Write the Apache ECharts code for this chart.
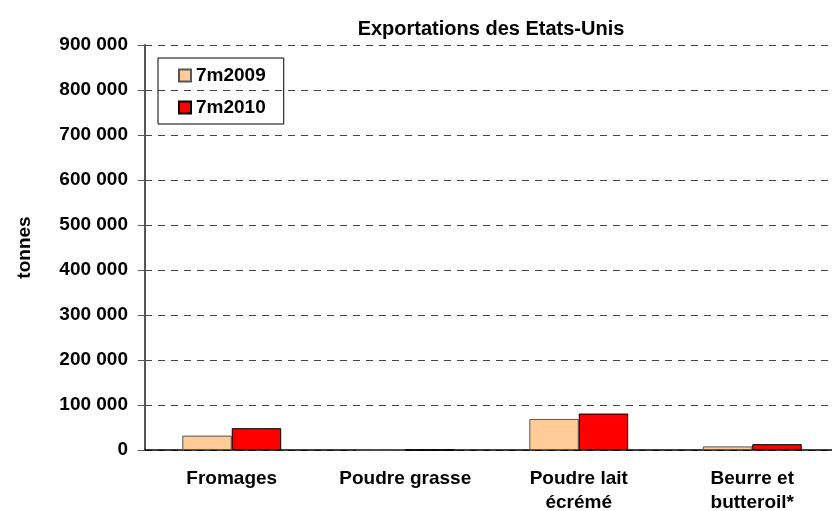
<!DOCTYPE html>
<html lang="fr">

<head>
  <meta charset="UTF-8">
  <title>Exportations des Etats-Unis</title>
  <script src="https://cdn.jsdelivr.net/npm/echarts@6/dist/echarts.min.js"></script>
</head>

<body style="margin:0;background:#fff;">
  <div id="main" style="width: 832px;height:511px;"></div>
  <script>
    let categories = ['Fromages', 'Poudre grasse', 'Poudre lait\nécrémé', 'Beurre et\nbutteroil*'];
    let seriesNames = ['7m2009', '7m2010'];
    let values2009 = [32000, 0, 69000, 8000];
    let values2010 = [48500, 0, 81000, 13000];
    let yTicks = { min: 0, max: 900000, interval: 100000 };

    let font = '"Liberation Sans", Arial, sans-serif';

    let chart = echarts.init(document.getElementById('main'));
    let option = {
      animation: false,
      backgroundColor: '#fff',
      title: {
        text: 'Exportations des Etats-Unis',
        left: 486,
        top: 14,
        textAlign: 'center',
        textStyle: {
          fontFamily: font,
          fontSize: 20,
          fontWeight: 'bold',
          color: '#000'
        }
      },
      legend: {
        orient: 'vertical',
        left: 158,
        top: 58,
        padding: [8, 18, 7, 20],
        itemGap: 13,
        itemWidth: 12,
        itemHeight: 12,
        borderColor: '#000',
        borderWidth: 1,
        borderRadius: 0,
        icon: 'rect',
        data: seriesNames,
        textStyle: {
          fontFamily: font,
          fontSize: 19,
          fontWeight: 'bold',
          color: '#000'
        }
      },
      // the plot area runs a little past the right edge of the picture
      grid: {
        left: 145,
        top: 45,
        width: 694,
        bottom: 61,
        containLabel: false,
        outerBoundsMode: 'none'
      },
      xAxis: {
        type: 'category',
        data: categories,
        axisLine: { lineStyle: { color: '#000', width: 1.5 } },
        axisTick: {
          length: 6,
          lineStyle: { color: '#666', width: 1.5 }
        },
        axisLabel: {
          margin: 17,
          interval: 0,
          lineHeight: 24,
          fontFamily: font,
          fontSize: 19,
          fontWeight: 'bold',
          color: '#000'
        }
      },
      yAxis: {
        type: 'value',
        name: 'tonnes',
        nameLocation: 'middle',
        nameGap: 111,
        nameTextStyle: {
          fontFamily: font,
          fontSize: 19,
          fontWeight: 'bold',
          color: '#000'
        },
        min: yTicks.min,
        max: yTicks.max,
        interval: yTicks.interval,
        axisLine: { show: true, lineStyle: { color: '#555', width: 2 } },
        axisTick: { show: true, length: 7, lineStyle: { color: '#555' } },
        axisLabel: {
          margin: 17,
          fontFamily: font,
          fontSize: 19,
          fontWeight: 'bold',
          color: '#000',
          formatter: (v) => String(v).replace(/\B(?=(\d{3})+(?!\d))/g, ' ')
        },
        splitLine: {
          show: true,
          lineStyle: { color: '#444', type: [7, 6], width: 1 }
        }
      },
      series: [{
        name: seriesNames[0],
        type: 'bar',
        data: values2009,
        barGap: '0%',
        barCategoryGap: '43%',
        itemStyle: { color: '#FFCC99', borderColor: '#555', borderWidth: 1 }
      }, {
        name: seriesNames[1],
        type: 'bar',
        data: values2010,
        barGap: '0%',
        barCategoryGap: '43%',
        itemStyle: { color: '#FF0000', borderColor: '#000', borderWidth: 1 }
      }]
    };
    chart.setOption(option);
  </script>
</body>

</html>
